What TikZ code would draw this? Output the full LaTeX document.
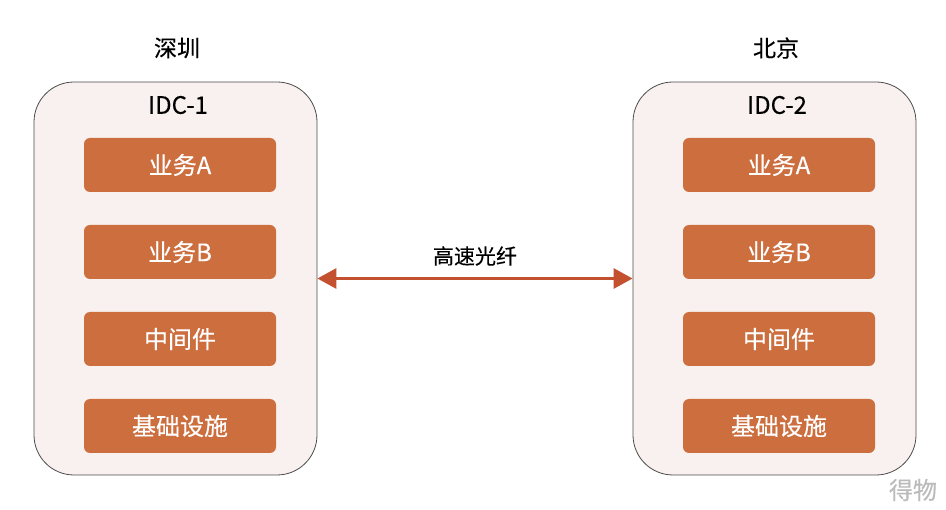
\documentclass[tikz,border=0pt]{standalone}
\usepackage{fontspec}
\setmainfont[FakeBold=0.3]{Noto Sans CJK SC}
\usetikzlibrary{arrows.meta}
\definecolor{idcfill}{HTML}{F9F1EF}
\definecolor{svcfill}{HTML}{CC6E3E}
\definecolor{linkred}{HTML}{C3502F}
\definecolor{markgray}{HTML}{BBBBBB}

\begin{document}
\begin{tikzpicture}[x=1pt, y=-1pt, >={Triangle[length=19pt,width=20pt]},
	idc/.style={draw=black!70, fill=idcfill, line width=0.8pt, rounded corners=40pt,
		minimum width=283pt, minimum height=393pt},
	svc/.style={fill=svcfill, rounded corners=6pt, text=white,
		minimum width=192pt, minimum height=54pt, font=\fontsize{24}{24}\selectfont},
	city/.style={font=\fontsize{23}{23}\selectfont},
	tag/.style={font=\fontsize{24}{24}\selectfont}]
	\useasboundingbox (0,0) rectangle (946,510);

	% two data centres
	\node[idc] (idc1) at (175.5,278.5) {};
	\node[idc] (idc2) at (774.5,278.5) {};
	\node[city] (sz) at (177,48) {深圳};
	\node[city] (bj) at (776,48) {北京};
	\node[tag] (tag1) at (178,105) {IDC-1};
	\node[tag] (tag2) at (777,105) {IDC-2};

	% layers in each centre
	\node[svc] (a1) at (180,165) {业务A};
	\node[svc] (b1) at (180,252) {业务B};
	\node[svc] (m1) at (180,339) {中间件};
	\node[svc] (i1) at (180,426) {基础设施};
	\node[svc] (a2) at (779,165) {业务A};
	\node[svc] (b2) at (779,252) {业务B};
	\node[svc] (m2) at (779,339) {中间件};
	\node[svc] (i2) at (779,426) {基础设施};

	% link
	\draw[<->, linkred, line width=3pt] (idc1.east) -- node[above=8pt, text=black,
		font=\fontsize{21}{21}\selectfont] (fiber) {高速光纤} (idc2.west);

	\node[text=markgray, font=\fontsize{24}{24}\selectfont] (mark) at (913,490) {得物};
\end{tikzpicture}
\end{document}
